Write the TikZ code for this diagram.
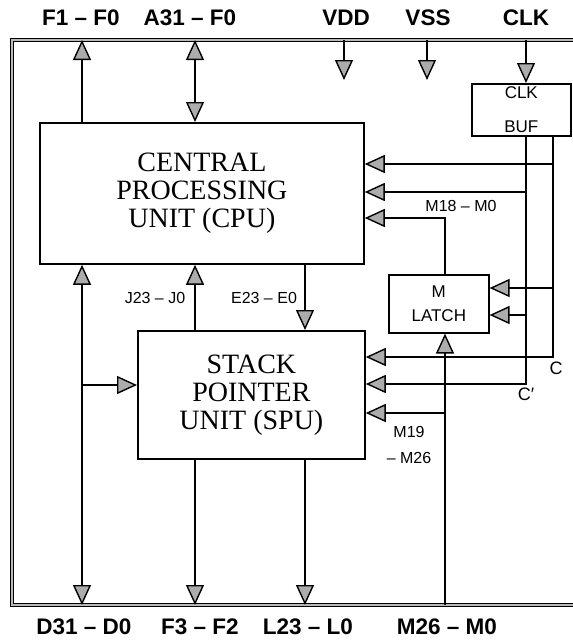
\documentclass[tikz,border=0pt]{standalone}
\usepackage{fontspec}
\setmainfont{Liberation Serif}
\setsansfont{Liberation Sans}
\usetikzlibrary{arrows.meta}
\begin{document}
\begin{tikzpicture}[x=1pt,y=-1pt,
  >={Triangle[length=20pt,width=18pt,fill=gray!65,line width=1.4pt]},
  wire/.style={line width=1.7pt},
  frame/.style={draw=black,line width=1.3pt,double=gray!55,double distance=1.4pt},
  bigbox/.style={draw,line width=1.8pt,anchor=north west,inner sep=0pt,align=center,
     font=\fontsize{28}{28}\selectfont},
  smallbox/.style={draw,line width=1.6pt,anchor=north west,inner sep=0pt,align=center,
     font=\sffamily\fontsize{17}{25}\selectfont},
  toplab/.style={font=\sffamily\bfseries\fontsize{22.5}{22}\selectfont,inner sep=0pt},
  siglab/.style={font=\sffamily\fontsize{16}{16}\selectfont,inner sep=0pt}]
\useasboundingbox (0,0) rectangle (573,640);
% frame
\draw[frame] (580,40) -- (12,40) -- (12,605) -- (580,605);
\coordinate (T) at (0,40);
\coordinate (B) at (0,605);
% boxes
\node[bigbox,minimum width=324pt,minimum height=141pt] (cpu) at (39,122)
  {CENTRAL\\PROCESSING\\UNIT (CPU)};
\node[bigbox,minimum width=227pt,minimum height=128pt] (spu) at (137,330)
  {STACK\\POINTER\\UNIT (SPU)};
\node[smallbox,minimum width=100pt,minimum height=58pt] (latch) at (388,274)
  {M\\[-1pt]LATCH};
\node[smallbox,minimum width=99pt,minimum height=52pt] (buf) at (471,83)
  {CLK\\[9pt]BUF};
% x positions
\coordinate (xF) at (82,0);
\coordinate (xA) at (195,0);
\coordinate (xE) at (305,0);
\coordinate (xVDD) at (344,0);
\coordinate (xVSS) at (427,0);
\coordinate (xM) at (445,0);
\coordinate (xCp) at (526,0);
\coordinate (xC) at (553,0);
% y positions
\coordinate (y164) at (0,164);
\coordinate (y192) at (0,192);
\coordinate (y218) at (0,218);
\coordinate (y288) at (0,288);
\coordinate (y315) at (0,315);
\coordinate (y357) at (0,357);
\coordinate (y384) at (0,384);
\coordinate (y385) at (0,385);
\coordinate (y413) at (0,413);
\coordinate (vddend) at (344,80);
\coordinate (vssend) at (427,80);
% top connectors
\draw[wire,->] (cpu.north -| xF) -- (T -| xF);
\draw[wire,<->] (T -| xA) -- (cpu.north -| xA);
\draw[wire,->] (T -| xVDD) -- (vddend);
\draw[wire,->] (T -| xVSS) -- (vssend);
\draw[wire,->] (T -| xCp) -- (buf.north -| xCp);
% left bus
\draw[wire,<->] (cpu.south -| xF) -- (B -| xF);
\draw[wire,->] (xF |- y385) -- (spu.west |- y385);
% cpu <-> spu
\draw[wire,->] (spu.north -| xA) -- (cpu.south -| xA);
\draw[wire,->] (cpu.south -| xE) -- (spu.north -| xE);
% spu bottom
\draw[wire,->] (spu.south -| xA) -- (B -| xA);
\draw[wire,->] (spu.south -| xE) -- (B -| xE);
% M bus
\draw[wire,->] (B -| xM) -- (latch.south -| xM);
\draw[wire,->] (xM |- y413) -- (spu.east |- y413);
\draw[wire,->] (latch.north -| xM) |- (cpu.east |- y218);
% clocks
\draw[wire,->] (buf.south -| xC) |- (spu.east |- y357);
\draw[wire,->] (buf.south -| xCp) |- (spu.east |- y384);
\draw[wire,->] (xC |- y164) -- (cpu.east |- y164);
\draw[wire,->] (xCp |- y192) -- (cpu.east |- y192);
\draw[wire,->] (xC |- y288) -- (latch.east |- y288);
\draw[wire,->] (xCp |- y315) -- (latch.east |- y315);
% labels
\node[toplab] (lF1) at (81,18) {F1 – F0};
\node[toplab] (lA31) at (190,18) {A31 – F0};
\node[toplab] (lVDD) at (346,18) {VDD};
\node[toplab] (lVSS) at (428,18) {VSS};
\node[toplab] (lCLK) at (526,18) {CLK};
\node[toplab] (lD31) at (84,627) {D31 – D0};
\node[toplab] (lF3) at (200,627) {F3 – F2};
\node[toplab] (lL23) at (308,627) {L23 – L0};
\node[toplab] (lM26) at (447,627) {M26 – M0};
\node[siglab] (lJ) at (155,298) {J23 – J0};
\node[siglab] (lE) at (264,298) {E23 – E0};
\node[siglab] (lM18) at (461,206) {M18 – M0};
\node[siglab] (lM19) at (409,432) {M19};
\node[siglab] (lM26b) at (409,458) {– M26};
\node[siglab,font=\sffamily\fontsize{18}{18}\selectfont] (lC) at (556,368) {C};
\node[siglab,font=\sffamily\fontsize{18}{18}\selectfont] (lCp) at (526,394) {C′};
\end{tikzpicture}
\end{document}
